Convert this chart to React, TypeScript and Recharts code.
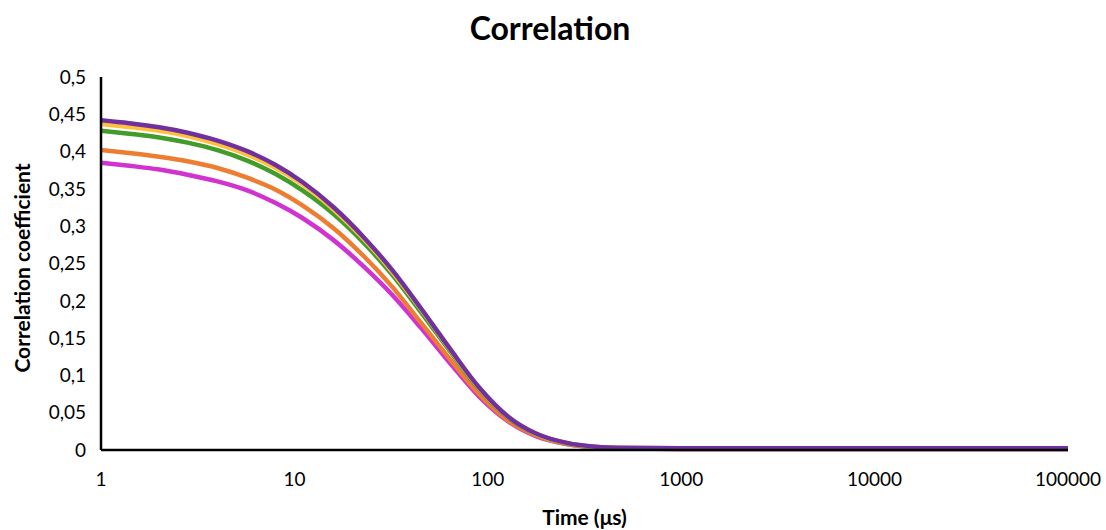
import React from 'react';
import { LineChart, Line, XAxis, YAxis } from 'recharts';

const times = [1, 1.4, 2, 2.8, 4, 5.7, 8, 11, 16, 23, 32, 45, 64, 90, 128, 180, 256, 360, 512, 1000, 2000, 5000, 10000, 20000, 50000, 100000];
const purple = [0.442, 0.438, 0.4326, 0.4253, 0.4148, 0.4006, 0.3821, 0.3593, 0.3251, 0.2843, 0.2414, 0.1903, 0.1352, 0.0841, 0.0443, 0.0214, 0.0095, 0.0045, 0.003, 0.0025, 0.0025, 0.0025, 0.0025, 0.0025, 0.0025, 0.0025];
const yellow = [0.437, 0.433, 0.428, 0.421, 0.410, 0.396, 0.378, 0.356, 0.322, 0.282, 0.239, 0.189, 0.134, 0.083, 0.044, 0.021, 0.0093, 0.0043, 0.0028, 0.0022, 0.0022, 0.0022, 0.0022, 0.0022, 0.0022, 0.0022];
const green = [0.428, 0.424, 0.419, 0.412, 0.402, 0.388, 0.370, 0.348, 0.316, 0.277, 0.235, 0.185, 0.132, 0.082, 0.043, 0.0205, 0.009, 0.004, 0.0025, 0.002, 0.002, 0.002, 0.002, 0.002, 0.002, 0.002];
const orange = [0.402, 0.398, 0.393, 0.387, 0.378, 0.365, 0.349, 0.328, 0.297, 0.259, 0.219, 0.171, 0.121, 0.075, 0.039, 0.019, 0.008, 0.0035, 0.002, 0.0015, 0.0015, 0.0015, 0.0015, 0.0015, 0.0015, 0.0015];
const magenta = [0.385, 0.381, 0.376, 0.369, 0.360, 0.348, 0.331, 0.311, 0.281, 0.245, 0.208, 0.164, 0.116, 0.072, 0.038, 0.018, 0.008, 0.0035, 0.002, 0.0015, 0.0015, 0.0015, 0.0015, 0.0015, 0.0015, 0.0015];

const xTicks = [1, 10, 100, 1000, 10000, 100000];
const yTicks = [0, 0.05, 0.1, 0.15, 0.2, 0.25, 0.3, 0.35, 0.4, 0.45, 0.5];

const title = 'Correlation';
const xTitle = 'Time (μs)';
const yTitle = 'Correlation coefficient';

const data = times.map((t, i) => ({
  t,
  magenta: magenta[i],
  orange: orange[i],
  green: green[i],
  yellow: yellow[i],
  purple: purple[i],
}));

const font = 'Lato, "Open Sans", sans-serif';

export default function App() {
  return (
    <div style={{ position: 'absolute', left: 0, top: 0, width: 1106, height: 530, background: '#fff', fontFamily: font }}>
      <LineChart width={1106} height={530} data={data} margin={{ top: 77, right: 38, bottom: 50, left: 0 }}>
        <XAxis
          dataKey="t"
          type="number"
          scale="log"
          domain={[1, 100000]}
          ticks={xTicks}
          allowDataOverflow
          axisLine={{ stroke: '#000', strokeWidth: 2.5 }}
          tickLine={false}
          tickSize={0}
          tickMargin={23}
          height={30}
          tick={{ fill: '#000', fontSize: 19, fontFamily: font }}
        />
        <YAxis
          type="number"
          domain={[0, 0.5]}
          ticks={yTicks}
          width={101}
          axisLine={{ stroke: '#000', strokeWidth: 2.5 }}
          tickLine={false}
          tickSize={0}
          tickMargin={15}
          tickFormatter={(v: number) => String(v).replace('.', ',')}
          tick={{ fill: '#000', fontSize: 19, fontFamily: font }}
        />
        <Line dataKey="magenta" stroke="#D033D0" strokeWidth={4.5} dot={false} type="monotone" isAnimationActive={false} />
        <Line dataKey="orange" stroke="#ED7D31" strokeWidth={4.5} dot={false} type="monotone" isAnimationActive={false} />
        <Line dataKey="green" stroke="#419C2B" strokeWidth={4.5} dot={false} type="monotone" isAnimationActive={false} />
        <Line dataKey="yellow" stroke="#FFC13B" strokeWidth={4.5} dot={false} type="monotone" isAnimationActive={false} />
        <Line dataKey="purple" stroke="#7030A0" strokeWidth={4.5} dot={false} type="monotone" isAnimationActive={false} />
      </LineChart>
      <div style={{ position: 'absolute', left: 0, width: 1106, top: 8, textAlign: 'center', fontSize: 32, fontWeight: 700, color: '#000', lineHeight: '40px' }}>
        <span style={{ position: 'relative', left: -3 }}>{title}</span>
      </div>
      <div style={{ position: 'absolute', left: 101, width: 967, top: 504, textAlign: 'center', fontSize: 21, fontWeight: 700, color: '#000', lineHeight: '26px' }}>
        {xTitle}
      </div>
      <div style={{ position: 'absolute', left: 22, top: 268, width: 0, height: 0 }}>
        <div style={{ position: 'absolute', left: -150, top: -13, width: 300, textAlign: 'center', transform: 'rotate(-90deg)', fontSize: 21, fontWeight: 700, color: '#000', lineHeight: '26px', whiteSpace: 'nowrap' }}>
          {yTitle}
        </div>
      </div>
    </div>
  );
}
